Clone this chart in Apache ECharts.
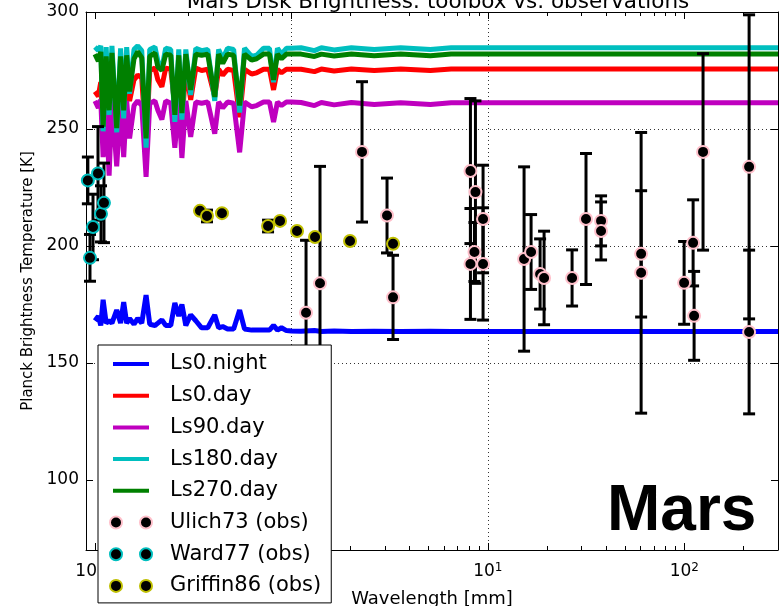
<!DOCTYPE html>
<html>
<head>
<meta charset="utf-8">
<script src="https://cdn.jsdelivr.net/npm/echarts@6/dist/echarts.min.js"></script>
<style>html,body{margin:0;padding:0;background:#fff}#c{width:784px;height:606px}</style>
</head>
<body>
<div id="c"></div>
<script>
// ---- model spectra (wavelength in mm, brightness temperature in K) ----
const lam = [0.100,0.104,0.107,0.110,0.114,0.118,0.122,0.129,0.135,0.140,0.145,0.150,0.158,0.165,0.173,0.182,0.190,0.202,0.209,0.219,0.229,0.243,0.255,0.267,0.277,0.290,0.307,0.326,0.349,0.375,0.407,0.426,0.447,0.473,0.508,0.545,0.577,0.627,0.665,0.721,0.773,0.811,0.849,0.890,0.943,1.0,1.12,1.31,1.42,1.65,2.02,2.64,3.6,5.1,6.5,20.8,67,300];
const ls0night = [168,170,166,177,167,168,167,172.6,167,176,167,169,166.5,169,167,179,166.5,166,167,168.4,166,166,175.6,170,175,166,170.5,168,165,165,170.5,165,165.5,164.5,164.5,172.6,164.5,164,164,164,164,166,164,165,163.8,163.6,163.5,163.8,163.4,163.6,163.4,163.5,163.4,163.5,163.4,163.4,163.4,163.4];
const ls0day = [266,264,270,246,268,252,271,247,270,254,272,262,271,273,272,242,275,276,271,268,276,275.5,259.4,275.5,252,276,262.4,276,275,275.5,263.7,275.5,273,275.5,275,255,275.5,273.5,274,275.5,275.5,266.7,275.5,274,275.5,275.5,275.5,274.5,275.6,274.8,275.6,275,275.6,275,275.6,275.6,275.6,275.6];
const ls90day = [262,259,262.5,238,260,230,262,234,261,238,262,246,260,262,260,229.5,261,262,258,254,262,261,242,261.5,237.6,262,246.6,261.5,261,261.5,248,261.5,259,261.5,261,240,261.5,259.5,260,261.5,261.5,253,261.5,260,261.5,261.5,261.3,260,261.3,260.3,261.3,260.5,261.2,260.5,261.2,261.2,261.2,261.2];
const ls180day = [285,283.5,285.5,249,285,256,285.5,248.5,284.5,254.5,285,265,284,285.5,283.5,242,284,285,279,276,284.5,284,253,284,254,284,264.5,284.5,283.5,284,262,284,280,284.5,284,257,284.5,281,281.5,284.5,284.5,270,284.5,282,284.5,284.5,284.7,283.5,284.7,283.8,284.7,284,284.7,284,284.7,284.7,284.7,284.7];
const ls270day = [282,279,283,251,281,258,282.5,250.4,281,258,281.5,266,280,283,280.5,246,281,282.5,276.5,275,282,281.5,256,281.5,256.8,282,266.7,282,281.5,282,263.7,282,278,282,281.5,260,282,279.5,280,282,282,271,282,280,282,282,282,281,282,281.2,282,281.3,282,281.3,282,282,282,282];

// ---- observations: [wavelength mm, T K, error K] ----
const ulich73 = [[1.187,171.4,31],[1.398,184,50],[2.288,240.2,30],[3.067,213,16],[3.291,178,18],
  [8.154,232,31],[8.647,223,39],[9.454,211.5,23],[8.546,197.4,12.6],[8.154,192.3,23.7],[9.454,192.3,24],
  [15.29,194.4,39.4],[16.6,197.4,16],[18.45,188,15],[19.33,186.3,20],[26.84,186.3,12],
  [31.6,211.5,28],[37.7,210.7,10.7],[37.7,206.4,12.4],[60.3,196.6,27],[60.3,188.5,60],
  [99.8,184.2,17.7],[110.9,201.3,18.4],[112.2,170.1,19],[124.6,240.2,42],[213.8,233.8,65],[213.8,163.2,35]];
const ward77 = [[0.092,228,10],[0.0943,194.9,10],[0.0977,208.1,14],[0.1036,231,20],[0.1073,213.7,12],[0.1111,218.4,17]];
const griffin86 = [[0.3424,215,0],[0.3717,212.8,2.5],[0.4431,214,0],[0.7604,208.5,2.5],[0.8749,210.7,0],[1.068,206.4,0],[1.319,203.8,0],[1.988,202.1,0],[3.291,200.9,0]];

// ---- axis ticks ----
const xMajor = [0.1,1,10,100];
const xMinor = [0.2,0.3,0.4,0.5,0.6,0.7,0.8,0.9,2,3,4,5,6,7,8,9,20,30,40,50,60,70,80,90,200,300];
const yTicks = [100,150,200,250,300];

const FONT = 'DejaVu Sans';
const chart = echarts.init(document.getElementById('c'), null, {renderer:'canvas'});

function lineSeries(name, color, vals){
  return {name, type:'line', data: lam.map((l,i)=>[l, vals[i]]), symbol:'none', showSymbol:false,
    lineStyle:{color, width:5}, itemStyle:{color}, z:2, animation:false, clip:true};
}
function errSeries(name, arr){
  return {name, type:'custom', data: arr, encode:{x:0,y:1}, z:3, silent:true, animation:false,
    renderItem(params, api){
      const x = api.value(0), y = api.value(1), e = api.value(2);
      if (!e) return null;
      const p1 = api.coord([x, y+e]), p2 = api.coord([x, y-e]);
      const st = {stroke:'#000', lineWidth:3};
      return {type:'group', children:[
        {type:'line', shape:{x1:p1[0],y1:p1[1],x2:p2[0],y2:p2[1]}, style:st},
        {type:'line', shape:{x1:p1[0]-6,y1:p1[1],x2:p1[0]+6,y2:p1[1]}, style:st},
        {type:'line', shape:{x1:p2[0]-6,y1:p2[1],x2:p2[0]+6,y2:p2[1]}, style:st}
      ]};
    }};
}
function scatterSeries(name, edge, arr){
  return {name, type:'scatter', data: arr.map(d=>[d[0],d[1]]), symbol:'circle', symbolSize:12,
    itemStyle:{color:'#000', borderColor:edge, borderWidth:2, opacity:1}, z:4, animation:false};
}

const xBase = {type:'log', logBase:10, min:0.09, max:300, gridIndex:0};
const LINE_ICON = 'path://M0,0M44,20M4,8L40,8L40,12L4,12Z';
const DOT_ICON = 'path://M0,0M44,20M1,10A6,6,0,1,1,13,10A6,6,0,1,1,1,10ZM31,10A6,6,0,1,1,43,10A6,6,0,1,1,31,10Z';

const supFmt = v => {
  const lg = Math.log10(v), e = Math.round(lg);
  if (Math.abs(lg - e) > 1e-6) return '';
  return '{b|10}{s|' + (e < 0 ? '\u2212' + (-e) : e) + '}';
};

const option = {
  animation:false,
  textStyle:{fontFamily:FONT},
  title:{text:'Mars Disk Brightness: toolbox vs. observations', left:433, top:-14, textAlign:'center',
    textStyle:{fontSize:21.5, fontWeight:'normal', color:'#000', fontFamily:FONT}},
  grid:{left:86, right:6, top:12, bottom:56, containLabel:false, outerBoundsMode:'none'},
  xAxis:[
    Object.assign({}, xBase, {position:'bottom',
      axisLine:{show:true, lineStyle:{color:'#000', width:1}},
      axisTick:{show:true, inside:true, length:7, customValues:xMajor, lineStyle:{color:'#000'}},
      axisLabel:{show:true, customValues:xMajor, formatter:supFmt, margin:12,
        rich:{b:{fontSize:17, color:'#000', lineHeight:20, verticalAlign:'middle', fontFamily:FONT},
              s:{fontSize:12, color:'#000', lineHeight:10, verticalAlign:'top', fontFamily:FONT}}},
      splitLine:{show:true, showMinLine:false, showMaxLine:false, lineStyle:{color:'#333', width:1, type:[1,3]}},
      minorTick:{show:false},
      name:'Wavelength [mm]', nameLocation:'middle', nameGap:40,
      nameTextStyle:{fontSize:18, color:'#000', fontFamily:FONT}}),
    Object.assign({}, xBase, {position:'bottom',
      axisLine:{show:false}, axisTick:{show:true, inside:true, length:4, customValues:xMinor, lineStyle:{color:'#000'}},
      axisLabel:{show:false}, splitLine:{show:false}}),
    Object.assign({}, xBase, {position:'top',
      axisLine:{show:true, lineStyle:{color:'#000', width:1}},
      axisTick:{show:true, inside:true, length:7, customValues:xMajor, lineStyle:{color:'#000'}},
      axisLabel:{show:false}, splitLine:{show:false}}),
    Object.assign({}, xBase, {position:'top',
      axisLine:{show:false}, axisTick:{show:true, inside:true, length:4, customValues:xMinor, lineStyle:{color:'#000'}},
      axisLabel:{show:false}, splitLine:{show:false}})
  ],
  yAxis:[
    {type:'value', min:70, max:300, position:'left',
      axisLine:{show:true, lineStyle:{color:'#000', width:1}},
      axisTick:{show:true, inside:true, length:7, customValues:yTicks, lineStyle:{color:'#000'}},
      axisLabel:{show:true, customValues:yTicks, fontSize:17, color:'#000', margin:7, fontFamily:FONT},
      splitLine:{show:true, showMinLine:false, showMaxLine:false, lineStyle:{color:'#333', width:1, type:[1,3]}},
      name:'Planck Brightness Temperature [K]', nameLocation:'middle', nameGap:50,
      nameTextStyle:{fontSize:15, color:'#000', fontFamily:FONT}},
    {type:'value', min:70, max:300, position:'right',
      axisLine:{show:true, lineStyle:{color:'#000', width:1}},
      axisTick:{show:true, inside:true, length:7, customValues:yTicks, lineStyle:{color:'#000'}},
      axisLabel:{show:false}, splitLine:{show:false}}
  ],
  legend:{
    type:'plain', orient:'vertical', left:98, top:345, height:320, padding:[8,10,6,10], itemGap:9.7, itemWidth:44, itemHeight:20,
    backgroundColor:'#fff', borderColor:'#000', borderWidth:1, borderRadius:0, z:20,
    textStyle:{fontSize:21, color:'#000', fontFamily:FONT, lineHeight:22, padding:[0,0,0,12]},
    selectedMode:false,
    data:[
      {name:'Ls0.night', icon:LINE_ICON, itemStyle:{color:'#0000ff', borderWidth:0}},
      {name:'Ls0.day', icon:LINE_ICON, itemStyle:{color:'#ff0000', borderWidth:0}},
      {name:'Ls90.day', icon:LINE_ICON, itemStyle:{color:'#bf00bf', borderWidth:0}},
      {name:'Ls180.day', icon:LINE_ICON, itemStyle:{color:'#00bfbf', borderWidth:0}},
      {name:'Ls270.day', icon:LINE_ICON, itemStyle:{color:'#008000', borderWidth:0}},
      {name:'Ulich73 (obs)', icon:DOT_ICON, itemStyle:{color:'#000', borderColor:'pink', borderWidth:2}},
      {name:'Ward77 (obs)', icon:DOT_ICON, itemStyle:{color:'#000', borderColor:'#00bfbf', borderWidth:2}},
      {name:'Griffin86 (obs)', icon:DOT_ICON, itemStyle:{color:'#000', borderColor:'#bfbf00', borderWidth:2}}
    ]
  },
  graphic:[{type:'text', x:607, y:512, z:10, silent:true,
    style:{text:'Mars', font:'bold 64px "Liberation Sans"', fill:'#000', verticalAlign:'middle', align:'left'}}],
  series:[
    lineSeries('Ls0.night', '#0000ff', ls0night),
    lineSeries('Ls0.day', '#ff0000', ls0day),
    lineSeries('Ls90.day', '#bf00bf', ls90day),
    lineSeries('Ls180.day', '#00bfbf', ls180day),
    lineSeries('Ls270.day', '#008000', ls270day),
    errSeries('Ulich73 err', ulich73),
    scatterSeries('Ulich73 (obs)', 'pink', ulich73),
    errSeries('Ward77 err', ward77),
    scatterSeries('Ward77 (obs)', '#00bfbf', ward77),
    errSeries('Griffin86 err', griffin86),
    scatterSeries('Griffin86 (obs)', '#bfbf00', griffin86)
  ]
};
chart.setOption(option);
</script>
</body>
</html>
